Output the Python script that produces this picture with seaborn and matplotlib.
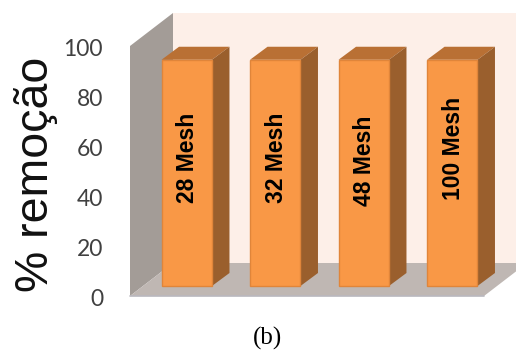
import matplotlib
matplotlib.use("Agg")
import matplotlib.pyplot as plt
from matplotlib.patches import Polygon
from matplotlib.transforms import Affine2D
import pandas as pd
import seaborn as sns

categories = ["28 Mesh", "32 Mesh", "48 Mesh", "100 Mesh"]
removal = [90.5, 90.5, 90.5, 90.5]
y_ticks = [0, 20, 40, 60, 80, 100]
label_heights = [51.4, 51.4, 50.0, 55.0]

FRONT = "#F99846"
TOP = "#B97034"
SIDE = "#9A5F2D"
WALL = "#A39C97"
FLOOR = "#BFB7B3"
BACK = "#FDEFE8"

W, H = 516, 350
sns.set_theme(style="white")
fig = plt.figure(figsize=(W / 100, H / 100), dpi=100, facecolor="white")
ax = fig.add_axes([130 / W, (H - 296) / H, 354 / W, 250 / H])

df = pd.DataFrame({"mesh": categories, "removal": removal})
sns.barplot(data=df, x="mesh", y="removal", color=FRONT, saturation=1,
            width=0.57, ax=ax, zorder=5)
ax.set_xlim(-0.5, 3.5)
ax.set_ylim(0, 100)
ax.set_xlabel("")
ax.set_ylabel("")
ax.set_xticks([])
ax.set_yticks(y_ticks)
ax.tick_params(axis="y", length=0, pad=19.4)
for lab in ax.get_yticklabels():
    lab.set_fontfamily("Lato")
    lab.set_fontsize(16.5)
    lab.set_color("#404040")
    lab.set_transform(lab.get_transform() + Affine2D().translate(0, -1.5))
sns.despine(ax=ax, left=True, bottom=True)
ax.patch.set_visible(False)


def shifted(dx, dy):
    return ax.transData + Affine2D().translate(dx, dy)


# Chart box: back wall, side wall and floor, sheared back by the box depth
box_dx, box_dy = 43, 33
x0, x1 = ax.get_xlim()
y0, y1 = ax.get_ylim()
to_px = ax.transData.transform
(px0, py0), (px1, py1) = to_px((x0, y0)), to_px((x1, y1))
px = lambda pts: Polygon(pts, closed=True, transform=None, clip_on=False, lw=0)
back = px([(px0 + box_dx, py0 + box_dy), (px1 + box_dx, py0 + box_dy),
           (px1 + box_dx, py1 + box_dy), (px0 + box_dx, py1 + box_dy)])
back.set(facecolor=BACK, zorder=1)
wall = px([(px0, py0), (px0 + box_dx, py0 + box_dy),
           (px0 + box_dx, py1 + box_dy), (px0, py1)])
wall.set(facecolor=WALL, zorder=2)
floor = px([(px0, py0), (px1, py0), (px1 + box_dx, py0 + box_dy),
            (px0 + box_dx, py0 + box_dy)])
floor.set(facecolor=FLOOR, zorder=2)
for p in (back, wall, floor):
    ax.add_artist(p)
ax.plot([x0, x1], [y0, y0], color="#B9B8BE", lw=1.2, clip_on=False, zorder=3)

# Bars sit part way into the box, with oblique top and side faces
bar_dx, bar_dy = 12.5, 10
face_dx, face_dy = 17.5, 13
for rect, name, label_y in zip(ax.patches, categories, label_heights):
    rect.set_transform(shifted(bar_dx, bar_dy))
    rect.set_edgecolor("#E0853A")
    rect.set_linewidth(1)
    rect.set_clip_on(False)
    (ax_, ay), (bx, by) = to_px((rect.get_x(), rect.get_y())), to_px(
        (rect.get_x() + rect.get_width(), rect.get_height()))
    ax_, bx = ax_ + bar_dx, bx + bar_dx
    ay, by = ay + bar_dy, by + bar_dy
    top = px([(ax_, by), (bx, by), (bx + face_dx, by + face_dy), (ax_ + face_dx, by + face_dy)])
    top.set(facecolor=TOP, zorder=4)
    side = px([(bx, ay), (bx + face_dx, ay + face_dy), (bx + face_dx, by + face_dy), (bx, by)])
    side.set(facecolor=SIDE, zorder=4)
    ax.add_artist(top)
    ax.add_artist(side)
    ax.text(rect.get_x() + rect.get_width() / 2, label_y, name,
            transform=shifted(bar_dx + 1, bar_dy), rotation=90, ha="center", va="center",
            family="Liberation Sans", fontweight="bold", fontsize=16.5,
            color="black", zorder=6)

fig.text(48 / W, (H - 174.5) / H, "% remoção", rotation=90, ha="center", va="baseline",
         rotation_mode="anchor", family="Liberation Sans", fontsize=33.5, color="#111111")
fig.text(267 / W, (H - 338) / H, "(b)", ha="center", va="center",
         family="Liberation Serif", fontsize=18, color="black")

fig.savefig("out.png", dpi=100)
